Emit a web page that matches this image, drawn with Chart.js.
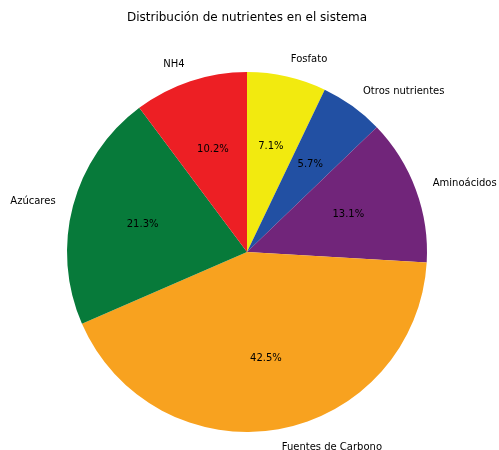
<!DOCTYPE html>
<html lang="es">
<head>
    <meta charset="UTF-8">
    <title>Distribución de nutrientes</title>
    <script src="https://cdn.jsdelivr.net/npm/chart.js"></script>
    <style>
        body { margin: 0; background: #fff; }
        #pie { display: block; }
    </style>
</head>
<body>
<canvas id="pie" width="499" height="450"></canvas>
<script>
    // clockwise from the top
    var labels = ['Fosfato', 'Otros nutrientes', 'Aminoácidos', 'Fuentes de Carbono', 'Azúcares', 'NH4'];
    var values = [7.1, 5.7, 13.1, 42.5, 21.3, 10.2];
    var colors = ['#F2EA0F', '#2250A3', '#71257A', '#F8A21F', '#077A3A', '#ED1F24'];
    var title = 'Distribución de nutrientes en el sistema';

    var font = '"DejaVu Sans", sans-serif';

    // draws the title, outer labels and percentages the way matplotlib does
    var pieText = {
        id: 'pieText',
        afterDraw: function (chart) {
            var ctx = chart.ctx;
            var arcs = chart.getDatasetMeta(0).data;
            var total = values.reduce(function (a, b) { return a + b; }, 0);
            ctx.save();
            ctx.fillStyle = '#000';
            ctx.textBaseline = 'middle';
            ctx.font = '12px ' + font;
            ctx.textAlign = 'center';
            ctx.fillText(title, 247, 18);

            ctx.font = '10px ' + font;
            arcs.forEach(function (arc, i) {
                var p = arc.getProps(['x', 'y', 'startAngle', 'endAngle', 'outerRadius'], true);
                var mid = (p.startAngle + p.endAngle) / 2;
                var cx = Math.cos(mid), cy = Math.sin(mid);
                ctx.textAlign = cx >= 0 ? 'left' : 'right';
                ctx.fillText(labels[i], p.x + cx * p.outerRadius * 1.1, p.y + cy * p.outerRadius * 1.1);
                ctx.textAlign = 'center';
                var pct = (values[i] / total * 100).toFixed(1) + '%';
                ctx.fillText(pct, p.x + cx * p.outerRadius * 0.6, p.y + cy * p.outerRadius * 0.6);
            });
            ctx.restore();
        }
    };

    new Chart(document.getElementById('pie').getContext('2d'), {
        type: 'pie',
        data: {
            labels: labels,
            datasets: [{
                data: values,
                backgroundColor: colors,
                borderWidth: 0
            }]
        },
        options: {
            responsive: false,
            animation: false,
            layout: { padding: { left: 67, right: 72, top: 72, bottom: 18 } },
            plugins: {
                legend: { display: false },
                tooltip: { enabled: false }
            }
        },
        plugins: [pieText]
    });
</script>
</body>
</html>
